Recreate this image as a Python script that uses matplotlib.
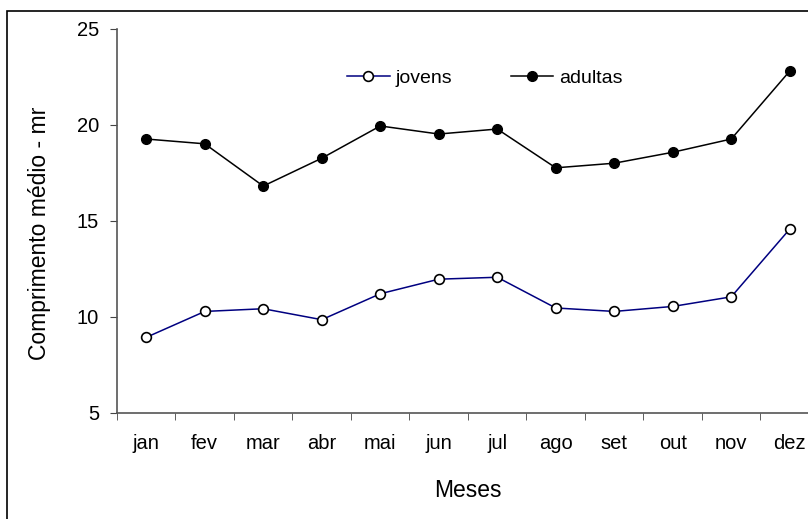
import matplotlib
matplotlib.use("Agg")
import matplotlib.pyplot as plt
from matplotlib.patches import Rectangle
from matplotlib.transforms import Bbox, TransformedBbox

plt.rcParams["font.family"] = ["Liberation Sans", "DejaVu Sans"]

meses = ["jan", "fev", "mar", "abr", "mai", "jun", "jul", "ago", "set", "out", "nov", "dez"]
jovens = [8.94, 10.29, 10.43, 9.86, 11.21, 11.97, 12.07, 10.47, 10.29, 10.55, 11.05, 14.58]
adultas = [19.27, 19.02, 16.82, 18.27, 19.95, 19.53, 19.79, 17.77, 18.01, 18.58, 19.27, 22.81]

W, H = 808, 519
fig = plt.figure(figsize=(W / 100, H / 100), dpi=100)
ax = fig.add_axes([117 / W, (H - 413) / H, 702 / W, 384 / H])

x = list(range(len(meses)))
ax.plot(x, jovens, color="#000080", lw=1.1, marker="o", ms=7,
        mfc="white", mec="black", mew=1.2, label="jovens")
ax.plot(x, adultas, color="black", lw=1.1, marker="o", ms=7,
        mfc="black", mec="black", label="adultas")

ax.set_xlim(-0.5, 11.5)
ax.set_ylim(5, 25)
ax.set_yticks([5, 10, 15, 20, 25])
ax.set_xticks(x)
ax.set_xticklabels(meses)
ax.set_xticks([i - 0.5 for i in range(len(meses))], minor=True)
ax.tick_params(axis="x", which="major", length=0, pad=15, labelsize=14.5)
ax.tick_params(axis="x", which="minor", length=5, direction="out", color="#444444")
ax.tick_params(axis="y", length=5, direction="out", color="#444444", labelsize=14.5, pad=8)

for s in ["top", "right"]:
    ax.spines[s].set_visible(False)
for s in ["left", "bottom"]:
    ax.spines[s].set_color("#555555")
    ax.spines[s].set_linewidth(1.2)

ax.set_xlabel("Meses", fontsize=16.5, labelpad=19)

leg = ax.legend(ncol=2, loc="center", bbox_to_anchor=(0.524, 0.872), frameon=False,
                fontsize=14, handlelength=2.2, handletextpad=0.3, columnspacing=3.0)

# rotulo do eixo y, cortado no topo como no original
lab = fig.text(40 / W, 1 - 228 / H, "Comprimento médio - mm", rotation=90,
               ha="center", va="center", fontsize=16.5)
lab.set_clip_box(TransformedBbox(Bbox([[0, 0], [1, (H - 108) / H]]), fig.transFigure))
lab.set_clip_on(True)

# moldura externa
fig.patches.append(Rectangle((7 / W, -0.1), 1.2, 1.1 - 11 / H, transform=fig.transFigure,
                             fill=False, ec="black", lw=1.2))

fig.savefig("out.png", dpi=100)
